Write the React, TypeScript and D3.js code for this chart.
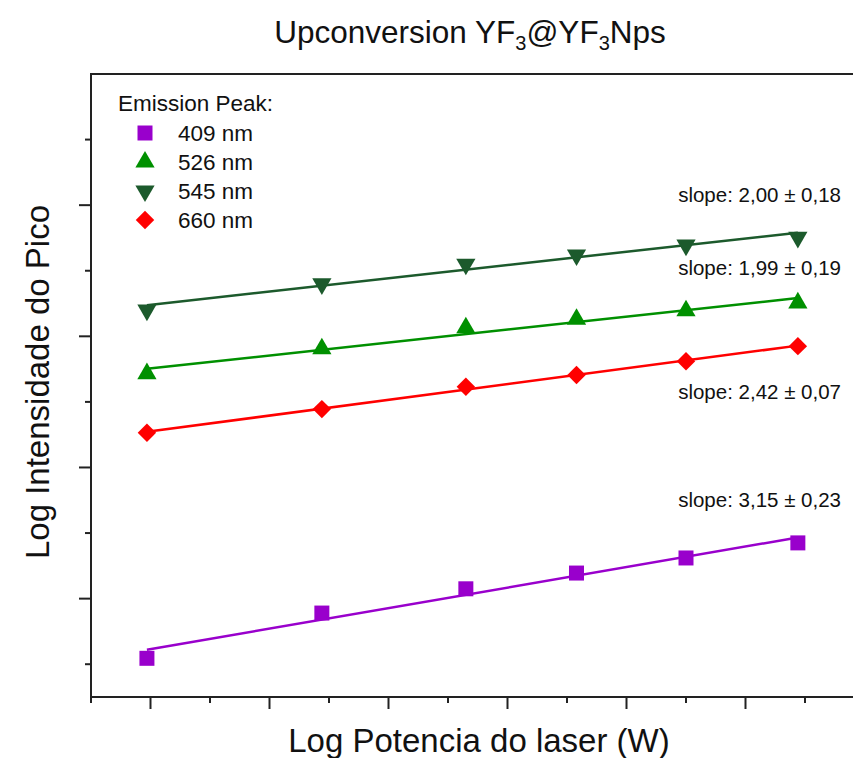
import React, { useEffect, useRef } from "react";
import * as d3 from "d3";

// log of laser power (W)
const logPower = [-1.003, -0.856, -0.735, -0.642, -0.55, -0.456];

// log peak intensity for each emission line
const peak409 = [1.09, 1.78, 2.15, 2.39, 2.62, 2.85];
const peak526 = [5.43, 5.81, 6.13, 6.26, 6.39, 6.51];
const peak545 = [6.4, 6.8, 7.1, 7.24, 7.39, 7.51];
const peak660 = [4.53, 4.89, 5.23, 5.41, 5.62, 5.85];

const seriesNames = ["409 nm", "526 nm", "545 nm", "660 nm"];
const slopeLabels = ["slope: 3,15 ± 0,23", "slope: 1,99 ± 0,19", "slope: 2,00 ± 0,18", "slope: 2,42 ± 0,07"];

const W = 853, H = 758;

function App() {
  const ref = useRef<SVGSVGElement>(null);

  useEffect(() => {
    const svg = d3.select(ref.current);
    svg.selectAll("*").remove();

    const left = 91, top = 74, bottom = 697, right = 1020;
    const x = d3.scaleLinear().domain([-1.05, -0.2]).range([left, left + (0.85 / 0.1) * 119]);
    const y = d3.scaleLinear().domain([0.5, 10]).range([bottom, top]);

    const font = "Arial, 'Liberation Sans', sans-serif";
    const axisColor = "#222";

    const series = [
      { name: seriesNames[0], vals: peak409, color: "#9900cc", shape: "square", label: slopeLabels[0], ly: 507 },
      { name: seriesNames[1], vals: peak526, color: "#009000", shape: "up", label: slopeLabels[1], ly: 275 },
      { name: seriesNames[2], vals: peak545, color: "#1c5a2c", shape: "down", label: slopeLabels[2], ly: 202 },
      { name: seriesNames[3], vals: peak660, color: "#ff0000", shape: "diamond", label: slopeLabels[3], ly: 399 },
    ];

    const markerPath = (shape: string) => {
      if (shape === "square") return d3.symbol().type(d3.symbolSquare).size(225)();
      if (shape === "diamond") return d3.symbol().type(d3.symbolSquare).size(170)();
      return d3.symbol().type(d3.symbolTriangle).size(160)();
    };
    const markerRot = (shape: string) =>
      shape === "diamond" ? 45 : shape === "down" ? 180 : 0;

    // frame (top border, right side runs off the page)
    svg.append("line").attr("x1", left).attr("x2", right).attr("y1", top).attr("y2", top)
      .attr("stroke", axisColor).attr("stroke-width", 2);

    // bottom axis
    svg.append("line").attr("x1", left - 1).attr("x2", right).attr("y1", bottom).attr("y2", bottom)
      .attr("stroke", axisColor).attr("stroke-width", 2);
    d3.range(-1.05, -0.2, 0.05).forEach((v, i) => {
      const major = i % 2 === 1;
      svg.append("line").attr("x1", x(v)).attr("x2", x(v))
        .attr("y1", bottom).attr("y2", bottom + (major ? 12 : 6))
        .attr("stroke", axisColor).attr("stroke-width", 2);
    });

    // left axis
    svg.append("line").attr("x1", left).attr("x2", left).attr("y1", top - 1).attr("y2", bottom + 1)
      .attr("stroke", axisColor).attr("stroke-width", 2);
    d3.range(1, 10, 1).forEach(v => {
      const major = v % 2 === 0;
      svg.append("line").attr("x1", left).attr("x2", left - (major ? 12 : 6))
        .attr("y1", y(v)).attr("y2", y(v))
        .attr("stroke", axisColor).attr("stroke-width", 2);
    });

    // linear fits and markers
    series.forEach(s => {
      const mx = d3.mean(logPower)!, my = d3.mean(s.vals)!;
      const sxy = d3.sum(logPower, (v, i) => (v - mx) * (s.vals[i] - my));
      const sxx = d3.sum(logPower, v => (v - mx) * (v - mx));
      const b = sxy / sxx, a = my - b * mx;
      const ends = d3.extent(logPower) as [number, number];
      svg.append("path")
        .attr("d", d3.line<number>().x(v => x(v)).y(v => y(a + b * v))(ends))
        .attr("stroke", s.color).attr("stroke-width", 2.5).attr("fill", "none");

      svg.selectAll(null).data(logPower).enter().append("path")
        .attr("d", markerPath(s.shape))
        .attr("transform", (v, i) => `translate(${x(v)},${y(s.vals[i])}) rotate(${markerRot(s.shape)})`)
        .attr("fill", s.color);

      svg.append("text").attr("x", 841).attr("y", s.ly).attr("text-anchor", "end")
        .style("font-family", font).style("font-size", "20.5px").attr("fill", "#111")
        .text(s.label);
    });

    // legend
    svg.append("text").attr("x", 118).attr("y", 111)
      .style("font-family", font).style("font-size", "22.5px").attr("fill", "#111")
      .text("Emission Peak:");
    series.forEach((s, i) => {
      const cy = [133, 162, 191, 220][i];
      svg.append("path").attr("d", markerPath(s.shape))
        .attr("transform", `translate(145,${cy}) rotate(${markerRot(s.shape)})`)
        .attr("fill", s.color);
      svg.append("text").attr("x", 178).attr("y", cy + 8)
        .style("font-family", font).style("font-size", "22.5px").attr("fill", "#111")
        .text(s.name);
    });

    // title
    const title = svg.append("text").attr("x", 470).attr("y", 43).attr("text-anchor", "middle")
      .style("font-family", font).style("font-size", "31.5px").attr("fill", "#111");
    title.append("tspan").text("Upconversion YF");
    title.append("tspan").attr("dy", 7).style("font-size", "20px").text("3");
    title.append("tspan").attr("dy", -7).text("@YF");
    title.append("tspan").attr("dy", 7).style("font-size", "20px").text("3");
    title.append("tspan").attr("dy", -7).text("Nps");

    // axis titles
    svg.append("text").attr("x", 479).attr("y", 752).attr("text-anchor", "middle")
      .style("font-family", font).style("font-size", "33px").attr("fill", "#111")
      .text("Log Potencia do laser (W)");
    svg.append("text").attr("transform", `translate(49,382) rotate(-90)`).attr("text-anchor", "middle")
      .style("font-family", font).style("font-size", "33px").attr("fill", "#111")
      .text("Log Intensidade do Pico");
  }, []);

  return (
    <svg ref={ref} width={W} height={H}
      style={{ position: "absolute", left: 0, top: 0, background: "#fff" }} />
  );
}

export default App;
